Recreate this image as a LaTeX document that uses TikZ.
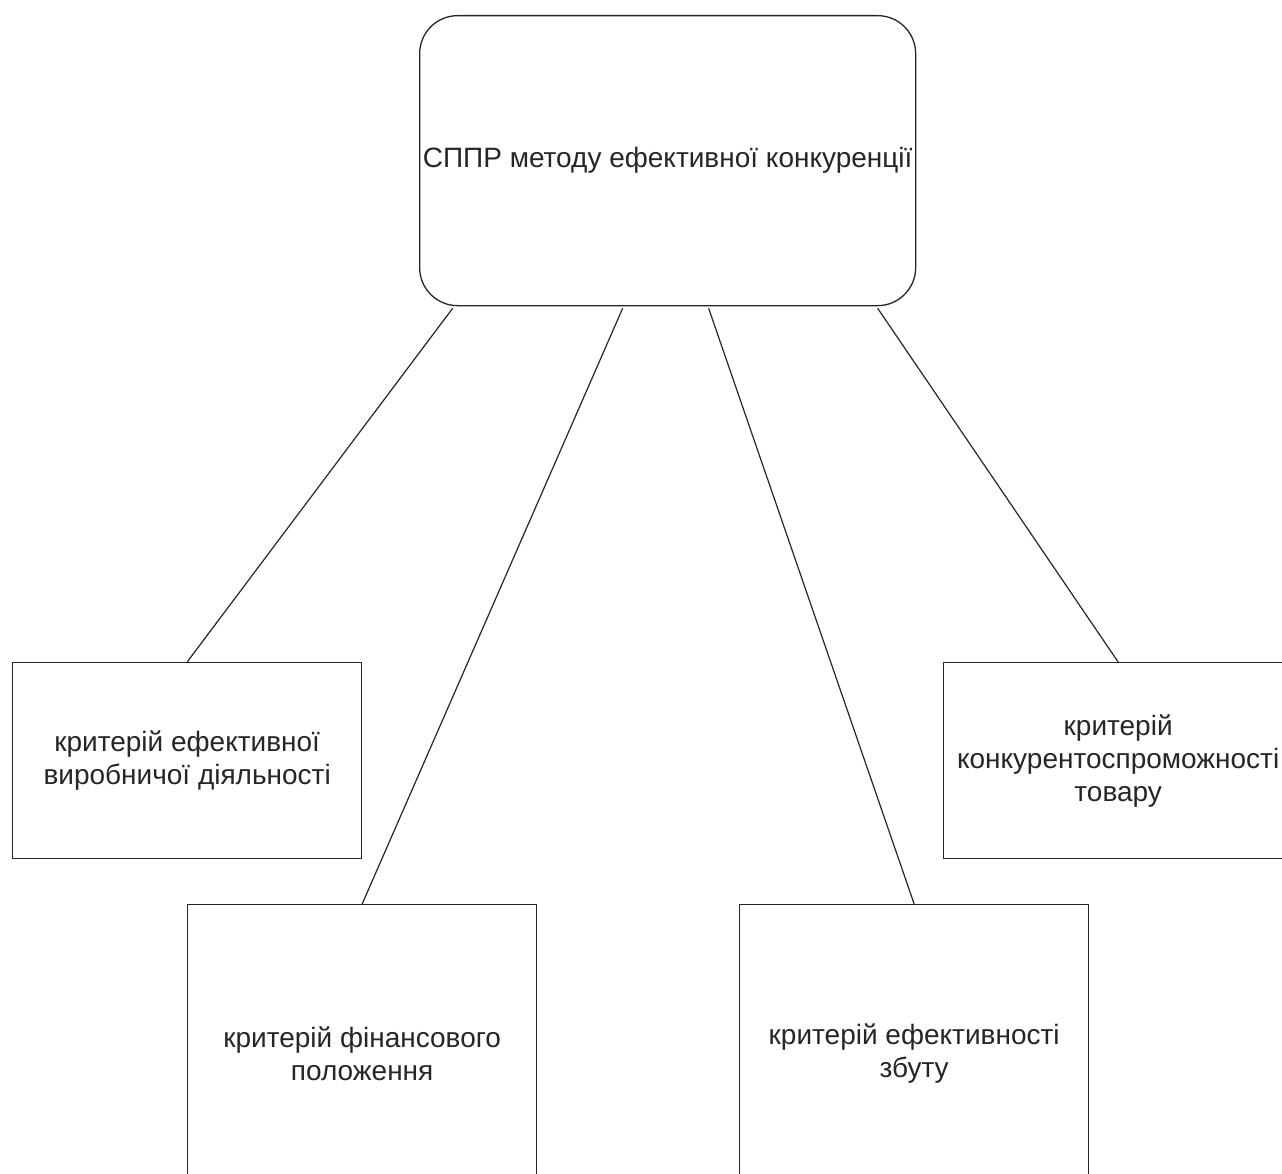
\documentclass[tikz,border=0pt]{standalone}
\usepackage{fontspec}
\setmainfont{Liberation Sans}
\usetikzlibrary{calc}
\begin{document}
\begin{tikzpicture}[x=1pt,y=-1pt,
  txt/.style={font=\fontsize{28}{33}\selectfont, text=black!85, align=center},
  crit/.style={txt, draw=black!85, line width=1.3pt, anchor=north west, minimum width=349pt, minimum height=196pt, inner sep=0pt},
  topbox/.style={txt, draw=black!85, line width=1.3pt, anchor=north west, rounded corners=38pt, minimum width=496pt, minimum height=290pt, inner sep=0pt},
  link/.style={draw=black!85, line width=1.2pt}]
\useasboundingbox (0,0) rectangle (1282,1174);
\clip (0,0) rectangle (1282,1174);
\fill[white] (0,0) rectangle (1282,1174);
\node[topbox] (top) at (419,15) {СППР методу ефективної конкуренції};
\node[crit] (c1) at (12,662) {критерій ефективної\\виробничої діяльності};
\node[crit] (c4) at (943,662) {критерій\\конкурентоспроможності\\товару};
\node[crit, minimum height=298pt] (c2) at (187,904) {критерій фінансового\\положення};
\node[crit, minimum height=298pt] (c3) at (739,904) {критерій ефективності\\збуту};
\coordinate (s1) at ($(top.south)+(-215,2)$);
\coordinate (s2) at ($(top.south)+(-45,2)$);
\coordinate (s3) at ($(top.south)+(41,2)$);
\coordinate (s4) at ($(top.south)+(210,2)$);
\draw[link] (s1) -- (c1.north);
\draw[link] (s2) -- (c2.north);
\draw[link] (s3) -- (c3.north);
\draw[link] (s4) -- (c4.north);
\end{tikzpicture}
\end{document}
